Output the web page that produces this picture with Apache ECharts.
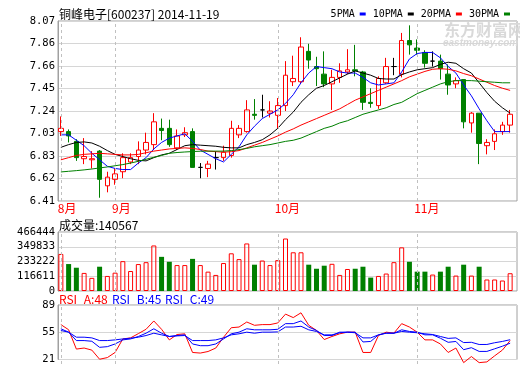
<!DOCTYPE html>
<html><head><meta charset="utf-8">
<script src="https://cdn.jsdelivr.net/npm/echarts@6/dist/echarts.min.js"></script>
<style>html,body{margin:0;padding:0;background:#fff}#c{width:520px;height:365px}</style>
</head><body><div id="c"></div>
<script>
// ---------- data ----------
const dates = ['2014-08-21','2014-08-22','2014-08-25','2014-08-26','2014-08-27','2014-08-28','2014-08-29',
'2014-09-01','2014-09-02','2014-09-03','2014-09-04','2014-09-05','2014-09-09','2014-09-10','2014-09-11','2014-09-12',
'2014-09-15','2014-09-16','2014-09-17','2014-09-18','2014-09-19','2014-09-22','2014-09-23','2014-09-24','2014-09-25','2014-09-26',
'2014-09-29','2014-09-30',
'2014-10-08','2014-10-09','2014-10-10','2014-10-13','2014-10-14','2014-10-15','2014-10-16','2014-10-17',
'2014-10-20','2014-10-21','2014-10-22','2014-10-23','2014-10-24','2014-10-27','2014-10-28','2014-10-29','2014-10-30','2014-10-31',
'2014-11-03','2014-11-04','2014-11-05','2014-11-06','2014-11-07','2014-11-10','2014-11-11','2014-11-12','2014-11-13','2014-11-14',
'2014-11-17','2014-11-18','2014-11-19'];
const openP  = [7.05,7.05,6.96,6.80,6.79,6.87,6.55,6.61,6.68,6.77,6.82,6.88,6.93,7.08,7.08,6.90,7.02,7.05,6.72,6.71,6.81,6.81,6.83,7.02,7.05,7.21,7.25,7.22,7.20,7.29,
                7.51,7.51,7.79,7.65,7.58,7.49,7.55,7.60,7.62,7.60,7.32,7.29,7.50,7.65,7.58,7.89,7.82,7.78,7.70,7.70,7.58,7.49,7.53,7.13,7.22,6.92,6.96,7.05,7.11];
const closeP = [7.08,7.01,6.81,6.82,6.80,6.61,6.63,6.66,6.81,6.81,6.88,6.95,7.14,7.06,6.93,7.01,7.04,6.72,6.72,6.75,6.81,6.86,7.08,7.08,7.25,7.20,7.25,7.24,7.29,7.57,
                7.54,7.83,7.71,7.63,7.49,7.55,7.61,7.62,7.61,7.32,7.31,7.54,7.65,7.65,7.89,7.85,7.80,7.68,7.70,7.63,7.48,7.52,7.14,7.22,6.94,6.95,7.03,7.11,7.21];
const lowP   = [7.01,6.95,6.78,6.75,6.71,6.44,6.49,6.56,6.62,6.75,6.75,6.84,6.88,6.97,6.91,6.88,7.00,6.72,6.62,6.63,6.70,6.78,6.81,6.99,7.04,7.16,7.18,7.18,7.08,7.24,
                7.47,7.49,7.63,7.47,7.46,7.25,7.50,7.58,7.56,7.25,7.27,7.26,7.49,7.57,7.55,7.76,7.76,7.64,7.65,7.53,7.39,7.45,7.08,7.04,6.75,6.84,6.88,7.02,7.04];
const highP  = [7.19,7.07,6.98,6.99,6.87,6.88,6.68,6.71,6.85,6.85,6.96,7.04,7.22,7.17,7.16,7.07,7.09,7.08,6.76,6.78,6.87,6.92,7.15,7.11,7.34,7.35,7.39,7.33,7.36,7.70,
                7.75,7.92,7.86,7.74,7.79,7.62,7.68,7.81,7.85,7.61,7.45,7.56,7.73,7.73,7.96,8.03,7.90,7.80,7.79,7.76,7.67,7.55,7.53,7.23,7.22,6.98,7.07,7.14,7.25];
const ma5  = [7.02,7.02,6.97,6.92,6.85,6.79,6.73,6.71,6.70,6.70,6.76,6.81,6.89,6.95,6.99,7.01,7.03,6.96,6.88,6.84,6.80,6.77,6.84,6.91,7.02,7.10,7.17,7.21,7.25,7.31,
              7.39,7.50,7.59,7.65,7.64,7.63,7.60,7.59,7.59,7.55,7.50,7.48,7.49,7.50,7.60,7.72,7.77,7.78,7.78,7.73,7.65,7.59,7.48,7.38,7.26,7.15,7.05,7.05,7.05];
const ma10 = [6.905,6.93,6.95,6.955,6.945,6.915,6.875,6.84,6.82,6.80,6.785,6.78,6.81,6.835,6.85,6.885,6.92,6.93,6.925,6.92,6.915,6.905,6.90,6.90,6.93,6.95,6.975,7.02,7.08,7.16,
              7.23,7.32,7.39,7.45,7.475,7.51,7.545,7.58,7.61,7.59,7.57,7.54,7.535,7.535,7.575,7.60,7.62,7.63,7.64,7.67,7.69,7.68,7.63,7.59,7.50,7.41,7.33,7.27,7.22];
const ma20 = [6.79,6.81,6.83,6.84,6.845,6.85,6.845,6.84,6.835,6.835,6.84,6.855,6.87,6.88,6.89,6.895,6.90,6.895,6.885,6.87,6.865,6.86,6.865,6.875,6.90,6.925,6.95,6.98,7.01,7.045,
              7.075,7.11,7.14,7.17,7.20,7.23,7.26,7.30,7.34,7.37,7.40,7.43,7.46,7.49,7.52,7.555,7.58,7.605,7.625,7.63,7.625,7.61,7.585,7.565,7.535,7.505,7.475,7.45,7.43];
const ma30 = [6.678,6.684,6.69,6.697,6.705,6.715,6.724,6.735,6.746,6.76,6.776,6.795,6.813,6.83,6.85,6.857,6.862,6.866,6.869,6.87,6.87,6.87,6.875,6.884,6.895,6.91,6.92,6.93,6.945,6.96,
              6.97,6.99,7.02,7.05,7.08,7.10,7.13,7.15,7.18,7.21,7.23,7.25,7.27,7.30,7.32,7.36,7.40,7.43,7.46,7.49,7.51,7.52,7.52,7.52,7.515,7.51,7.505,7.50,7.50];
const volume = [293000,213000,184000,143000,104000,192000,119000,145000,236000,158000,213000,228000,360000,270000,231000,205000,205000,254000,205000,153000,127000,221000,298000,252000,376000,208000,
                241000,205000,244000,415000,306000,306000,208000,176000,200000,215000,127000,174000,176000,192000,106000,119000,138000,228000,345000,231000,153000,153000,130000,153000,192000,122000,208000,122000,192000,91000,91000,83000,140567];
const rsiA = [66.4,60.5,38.2,39.4,37,26.5,28.4,34.3,49.9,51.1,56,61,70.6,61,48.8,55,55.8,34.3,33.6,35.4,39.4,51.8,62.8,63.6,69.4,65.6,
              66.4,66.4,68.3,78.5,74.5,80,65.6,59.7,49.2,52.7,55.8,57.7,57.7,34.3,34.3,53.8,57.7,56.6,67.5,63.6,57.7,48.8,48.8,44.1,34.3,39.4,22.6,29.6,22.6,23.4,30.4,37,48];
const rsiB = [61.6,57.7,48,48,47.2,40.2,41,44.1,48.8,49.9,52.7,56.5,61.6,56.5,52.7,53.8,54.6,44.1,42.1,42.1,44.1,49.9,55.8,57.7,61.6,60.4,
              60.4,60.4,61,67.5,67.5,70.6,63.6,59.7,53.8,53.8,57.7,57.7,57.7,46.4,47,54.6,56.5,56.5,60.4,58.5,57.7,54.6,54.6,50.7,46,47,37.5,39.8,35.5,35.5,38.5,41.5,45];
const rsiC = [59.6,57.7,51.9,51.9,51.1,48,48,48.8,49.9,50.7,51.9,53.8,56.5,54.6,52.7,53.4,53.8,48,48,48,48.8,51.1,54.6,55.8,57.7,56.5,
              57.7,57.7,58,63.6,63.6,64.5,60.4,58.5,54.6,54.6,57,57.7,57,51.1,51.1,54.6,56.5,56.5,58.5,57.7,57,55.8,55,52.7,50.5,51.1,45.7,46,43.5,43.5,45.5,47,49];
const priceTicks = ['6.41','6.62','6.83','7.03','7.24','7.45','7.66','7.86','8.07'];
const volTicks = ['0','116611','233222','349833','466444'];
const rsiTicks = ['21','55','89'];
const priceRange = [6.41, 8.07];
const volRange = [0, 466444];
const rsiRange = [21, 89];
const maNames = ['5PMA','10PMA','20PMA','30PMA'];
const titleText = '铜峰电子[600237] 2014-11-19';

// ---------- chart ----------
const FONT = '"Noto Sans CJK SC", sans-serif';
const MONO = '"DejaVu Sans Mono", monospace';
const UP = '#ff0000', DOWN = '#008000', GRIDC = '#d6d6d6', BORDER = '#a0a0a0';
const maColors = ['#0000ff', '#000000', '#ff0000', '#008000'];
const monthIdx = dates.map((d, i) => (i === 0 || d.slice(5, 7) !== dates[i - 1].slice(5, 7)) ? i : -1).filter(i => i >= 0);
const monthName = i => parseInt(dates[i].slice(5, 7), 10) + '月';

const panels = [{ top: 21, h: 180 }, { top: 232, h: 59 }, { top: 305, h: 59 }];
const grids = [];
panels.forEach(p => {
  grids.push({ left: 58, top: p.top, width: 459, height: p.h, show: true, borderColor: BORDER, borderWidth: 1, backgroundColor: 'transparent' });
  grids.push({ left: 57, top: p.top, width: 457, height: p.h });
});
const tickSets = [priceTicks, volTicks, rsiTicks];
const ranges = [priceRange, volRange, rsiRange];
const xAxes = [], yAxes = [];
panels.forEach((p, k) => {
  xAxes.push({ type: 'value', gridIndex: 2 * k, min: 0, max: 1, show: false });
  xAxes.push({
    type: 'category', gridIndex: 2 * k + 1, data: dates, boundaryGap: true,
    axisLine: { show: false }, axisTick: { show: false }, splitLine: { show: false },
    axisLabel: k === 0 ? {
      show: true, interval: (i) => monthIdx.indexOf(i) >= 0,
      formatter: (v, i) => monthName(i), color: UP, fontSize: 12, fontFamily: FONT, align: 'left', margin: 1, padding: [0, 0, 0, -3]
    } : { show: false }
  });
  const ticks = tickSets[k];
  yAxes.push({
    type: 'value', gridIndex: 2 * k, min: 0, max: ticks.length - 1, interval: 1,
    axisLine: { show: true, lineStyle: { color: BORDER } }, axisTick: { show: false },
    axisLabel: { formatter: v => ticks[v], color: '#000', fontSize: 10.5, fontFamily: MONO, margin: 3 },
    splitLine: { show: true, lineStyle: { color: GRIDC, width: 1 } }
  });
  yAxes.push({ type: 'value', gridIndex: 2 * k + 1, min: ranges[k][0], max: ranges[k][1], show: false, scale: true });
});

const monthLines = (xi, yi) => ({
  type: 'line', xAxisIndex: xi, yAxisIndex: yi, data: [], silent: true, z: 1,
  markLine: {
    symbol: 'none', silent: true, animation: false, label: { show: false },
    lineStyle: { type: [3, 3], color: '#c0c0c0', width: 1 },
    data: monthIdx.map(i => ({ xAxis: dates[i] }))
  }
});

const candleData = dates.map((d, i) => {
  const v = [openP[i], closeP[i], lowP[i], highP[i]];
  return openP[i] === closeP[i]
    ? { value: v, itemStyle: { color: '#000', color0: '#000', borderColor: '#000', borderColor0: '#000' } }
    : v;
});
const volData = volume.map((v, i) => ({
  value: v,
  itemStyle: closeP[i] >= openP[i]
    ? { color: 'rgba(255,255,255,0)', borderColor: UP, borderWidth: 1 }
    : { color: DOWN, borderColor: DOWN, borderWidth: 0 }
}));

const series = [
  monthLines(1, 1), monthLines(3, 3), monthLines(5, 5),
  {
    type: 'candlestick', xAxisIndex: 1, yAxisIndex: 1, data: candleData, barWidth: 5, z: 2,
    itemStyle: { color: 'rgba(255,255,255,0)', color0: DOWN, borderColor: UP, borderColor0: DOWN, borderWidth: 1 }
  },
  ...[ma5, ma10, ma20, ma30].map((arr, k) => ({
    name: maNames[k], type: 'line', xAxisIndex: 1, yAxisIndex: 1, data: arr, symbol: 'none', showSymbol: false,
    lineStyle: { color: maColors[k], width: 1 }, itemStyle: { color: maColors[k] }, z: 3
  })),
  { type: 'bar', xAxisIndex: 3, yAxisIndex: 3, data: volData, barWidth: 5, z: 2 },
  ...[[rsiA, UP], [rsiB, '#0000ff'], [rsiC, '#0000ff']].map(([arr, c]) => ({
    type: 'line', xAxisIndex: 5, yAxisIndex: 5, data: arr, symbol: 'none', showSymbol: false,
    lineStyle: { color: c, width: 1 }, z: 3
  }))
];

const last = dates.length - 1;
const txt = (x, y, text, fill, font) => ({ type: 'text', x, y, silent: true, style: { text, fill, font: font || ('12px ' + FONT), verticalAlign: 'middle', align: 'left' } });

const option = {
  animation: false,
  backgroundColor: '#fff',
  grid: grids, xAxis: xAxes, yAxis: yAxes, series,
  legend: {
    data: maNames, right: 10, top: 9, icon: 'rect', itemWidth: 6, itemHeight: 3, align: 'right', itemGap: 7,
    selectedMode: false, padding: 0, textStyle: { fontSize: 10, fontFamily: MONO, color: '#000' }
  },
  graphic: [
    txt(444, 30, '东方财富网', '#d9d9d9', 'bold 16px ' + FONT),
    txt(443, 43, 'eastmoney.com', '#d9d9d9', 'italic bold 10px "Liberation Sans", sans-serif'),
    txt(59, 14, titleText, '#000'),
    txt(59, 225, '成交量:' + volume[last], '#000'),
    txt(59, 299, 'RSI_A:' + Math.round(rsiA[last]), UP),
    txt(112, 299, 'RSI_B:' + Math.round(rsiB[last]), '#0000ff'),
    txt(165, 299, 'RSI_C:' + Math.round(rsiC[last]), '#0000ff')
  ]
};
const chart = echarts.init(document.getElementById('c'), null, { renderer: 'canvas' });
chart.setOption(option);
</script></body></html>
